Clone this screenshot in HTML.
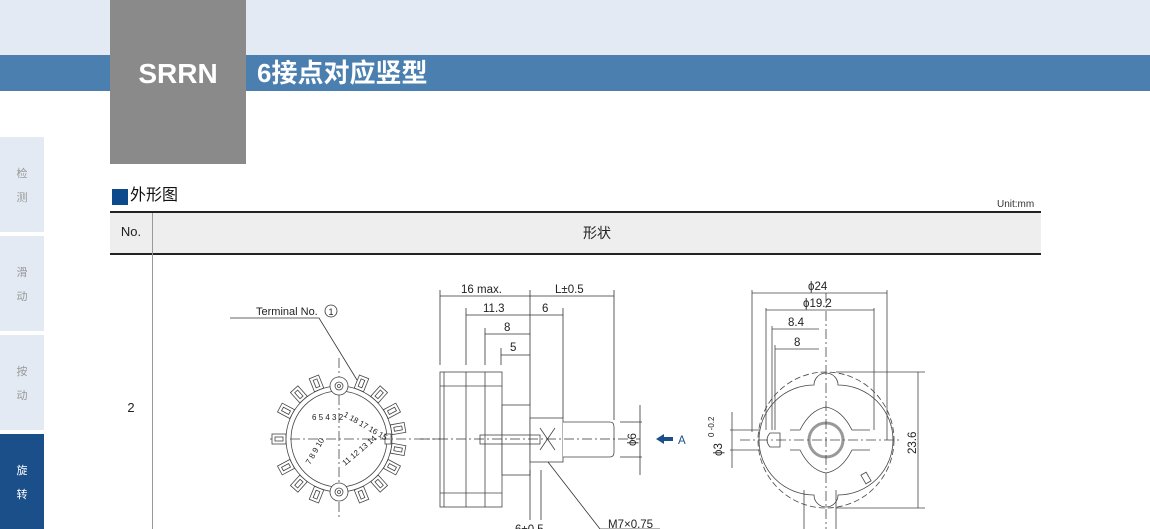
<!DOCTYPE html>
<html><head><meta charset="utf-8"><style>
body{margin:0;width:1150px;height:529px;overflow:hidden;background:#fff;font-family:"Liberation Sans","Noto Sans CJK SC",sans-serif;position:relative}
.a{position:absolute}
</style></head><body>
<div class="a" style="left:0;top:0;width:1150px;height:55px;background:#e3eaf3"></div>
<div class="a" style="left:0;top:55px;width:1150px;height:36px;background:#4a7fb0"></div>
<div class="a" style="left:110px;top:0;width:136px;height:164px;background:#8a8a8a"></div>
<div class="a" style="left:110px;top:58px;width:136px;text-align:center;color:#fff;font-weight:bold;font-size:28px;line-height:32px">SRRN</div>
<div class="a" style="left:257px;top:57px;color:#fff;font-size:26px;line-height:32px;font-weight:bold">6接点对应竖型</div>
<div class="a" style="left:0;top:137px;width:44px;height:95px;background:#e3eaf3;color:#999;font-size:11px;text-align:center"><div style="margin-top:28px">检</div><div style="margin-top:8px">测</div></div>
<div class="a" style="left:0;top:236px;width:44px;height:95px;background:#e3eaf3;color:#999;font-size:11px;text-align:center"><div style="margin-top:28px">滑</div><div style="margin-top:8px">动</div></div>
<div class="a" style="left:0;top:335px;width:44px;height:95px;background:#e3eaf3;color:#999;font-size:11px;text-align:center"><div style="margin-top:28px">按</div><div style="margin-top:8px">动</div></div>
<div class="a" style="left:0;top:434px;width:44px;height:95px;background:#1a4f8a;color:#fff;font-size:11px;text-align:center"><div style="margin-top:28px">旋</div><div style="margin-top:8px">转</div></div>
<div class="a" style="left:112px;top:189px;width:16px;height:16px;background:#0d4a8c"></div>
<div class="a" style="left:130px;top:186px;font-size:16px;line-height:20px;color:#111">外形图</div>
<div class="a" style="left:997px;top:199px;font-size:10px;color:#333">Unit:mm</div>
<div class="a" style="left:110px;top:211px;width:931px;height:2px;background:#222"></div>
<div class="a" style="left:110px;top:213px;width:931px;height:40px;background:#eee"></div>
<div class="a" style="left:110px;top:253px;width:931px;height:2px;background:#222"></div>
<div class="a" style="left:152px;top:213px;width:1px;height:316px;background:#999"></div>
<div class="a" style="left:110px;top:224px;width:42px;text-align:center;font-size:13px;color:#222">No.</div>
<div class="a" style="left:153px;top:223px;width:888px;text-align:center;font-size:14px;color:#222">形状</div>
<div class="a" style="left:110px;top:400px;width:42px;text-align:center;font-size:13px;color:#222">2</div>
<svg class="a" style="left:0;top:0" width="1150" height="529" viewBox="0 0 1150 529" font-family="Liberation Sans, sans-serif" font-size="10" fill="none" stroke="#333" stroke-width="0.8">
<defs><g id="t" stroke="#444" stroke-width="0.8"><rect x="334" y="372" width="10" height="14" fill="#fff"/><rect x="337" y="375" width="4" height="8" fill="none"/></g></defs>
<g stroke="#444">
<line x1="270" y1="439" x2="440" y2="439" stroke-dasharray="10,3,2,3"/>
<line x1="339" y1="358" x2="339" y2="520" stroke-dasharray="10,3,2,3"/>
<use href="#t" transform="rotate(22 339 439)"/><use href="#t" transform="rotate(42 339 439)"/><use href="#t" transform="rotate(62 339 439)"/>
<use href="#t" transform="rotate(118 339 439)"/><use href="#t" transform="rotate(138 339 439)"/><use href="#t" transform="rotate(158 339 439)"/>
<use href="#t" transform="rotate(202 339 439)"/><use href="#t" transform="rotate(222 339 439)"/><use href="#t" transform="rotate(242 339 439)"/>
<use href="#t" transform="rotate(270 339 439)"/><use href="#t" transform="rotate(298 339 439)"/><use href="#t" transform="rotate(318 339 439)"/><use href="#t" transform="rotate(338 339 439)"/>
<use href="#t" transform="rotate(80 339 439)"/><use href="#t" transform="rotate(100 339 439)"/>
<circle cx="339" cy="439" r="53" fill="#fff"/>
<circle cx="339" cy="439" r="48"/>
<circle cx="339" cy="386" r="9" fill="#fff"/><circle cx="339" cy="386" r="4"/><circle cx="339" cy="386" r="1.5"/>
<circle cx="339" cy="492" r="9" fill="#fff"/><circle cx="339" cy="492" r="4"/><circle cx="339" cy="492" r="1.5"/>
<rect x="385" y="434" width="6" height="10" fill="#fff"/>
<line x1="290" y1="439" x2="390" y2="439" stroke-dasharray="10,3,2,3"/>
<line x1="339" y1="395" x2="339" y2="483" stroke-dasharray="10,3,2,3"/>
</g>
<g fill="#222" stroke="none" font-size="8">
<text x="312" y="420">6 5 4 3 2</text><text x="343" y="416" transform="rotate(30 343 416)">1 18 17 16 15</text>
<text x="310" y="465" transform="rotate(-60 310 465)">7 8 9 10</text><text x="345" y="466" transform="rotate(-40 345 466)">11 12 13 14</text>
</g>
<polyline points="230,318 319,318 357,380" stroke="#333"/>
<text x="256" y="315" fill="#222" stroke="none" font-size="11">Terminal No.</text>
<circle cx="331" cy="311" r="6"/><text x="328.5" y="315" fill="#222" stroke="none" font-size="9">1</text>
<g stroke="#444" fill="#fff">
<rect x="440" y="372" width="62" height="135"/>
<line x1="444" y1="372" x2="444" y2="507"/><line x1="440" y1="386" x2="502" y2="386"/><line x1="440" y1="493" x2="502" y2="493"/>
<rect x="502" y="405" width="28" height="70"/>
<rect x="530" y="418" width="33" height="44"/>
<path d="M563 422 H610 Q614 422 614 427 V452 Q614 457 610 457 H563"/>
<path d="M540 428 L555 450 M555 428 L540 450" fill="none"/>
<line x1="466" y1="372" x2="466" y2="507"/><line x1="485" y1="372" x2="485" y2="507"/>
<rect x="480" y="435" width="60" height="9" fill="none"/>
</g>
<line x1="420" y1="439" x2="640" y2="439" stroke-dasharray="10,3,2,3"/>
<g stroke="#333">
<line x1="440" y1="290" x2="440" y2="365"/><line x1="530" y1="290" x2="530" y2="405"/><line x1="614" y1="290" x2="614" y2="420"/>
<line x1="466" y1="308" x2="466" y2="365"/><line x1="563" y1="308" x2="563" y2="418"/>
<line x1="485" y1="328" x2="485" y2="365"/><line x1="501" y1="348" x2="501" y2="365"/>
<line x1="440" y1="296" x2="614" y2="296"/><line x1="466" y1="315" x2="563" y2="315"/>
<line x1="485" y1="334" x2="530" y2="334"/><line x1="501" y1="355" x2="530" y2="355"/>
<line x1="620" y1="422" x2="642" y2="422"/><line x1="620" y1="457" x2="642" y2="457"/><line x1="640" y1="405" x2="640" y2="475"/>
<line x1="530" y1="470" x2="530" y2="520"/><line x1="541" y1="470" x2="541" y2="520"/>
<polyline points="548,462 600,529 660,529"/>
</g>
<g fill="#222" stroke="none" font-size="11.5">
<text x="461" y="293">16 max.</text><text x="555" y="293">L±0.5</text>
<text x="483" y="312">11.3</text><text x="542" y="312">6</text>
<text x="504" y="331">8</text><text x="510" y="351">5</text>
<text x="636" y="446" transform="rotate(-90 636 446)">ϕ6</text>
<text x="678" y="444" fill="#1a4f8a">A</text>
<text x="608" y="528">M7×0.75</text><text x="515" y="533">6±0.5</text>
</g>
<path d="M656 439 L664 434 V437 H673 V441 H664 V444 Z" fill="#1a4f8a" stroke="none"/>
<g stroke="#444">
<circle cx="826" cy="440" r="68" stroke-dasharray="6,3"/>
<path d="M814 385 A12 12 0 0 1 838 385 A53 53 0 1 1 838 495 A12 12 0 0 1 814 495 A53 53 0 1 1 814 385Z" fill="#fff"/>
<path d="M790 430 L800 430 Q810 410 826 407 Q842 410 852 430 L870 430" />
<path d="M790 450 L800 450 Q810 470 826 473 Q842 470 852 450 L870 450"/>
<circle cx="826" cy="440" r="17" stroke="#999" stroke-width="3"/>
<path d="M780 433 H770 Q764 440 770 447 H780 Z" fill="#fff"/>
<rect x="863" y="473" width="6" height="10" transform="rotate(-30 866 478)"/>
<line x1="740" y1="440" x2="900" y2="440" stroke-dasharray="10,3,2,3"/>
<line x1="826" y1="293" x2="826" y2="529" stroke-dasharray="10,3,2,3"/>
<line x1="752" y1="290" x2="752" y2="432"/><line x1="887" y1="290" x2="887" y2="440"/>
<line x1="766" y1="308" x2="766" y2="430"/><line x1="874" y1="308" x2="874" y2="430"/>
<line x1="772" y1="326" x2="772" y2="430"/><line x1="775" y1="345" x2="775" y2="430"/>
<line x1="752" y1="293" x2="887" y2="293"/><line x1="766" y1="310" x2="874" y2="310"/>
<line x1="772" y1="329" x2="819" y2="329"/><line x1="775" y1="349" x2="819" y2="349"/>
<line x1="836" y1="372" x2="925" y2="372"/><line x1="836" y1="508" x2="925" y2="508"/><line x1="918" y1="372" x2="918" y2="508"/>
<line x1="730" y1="430" x2="760" y2="430"/><line x1="730" y1="450" x2="760" y2="450"/><line x1="732" y1="412" x2="732" y2="468"/>
<line x1="804" y1="490" x2="804" y2="529"/><line x1="836" y1="490" x2="836" y2="529"/>
</g>
<g fill="#222" stroke="none" font-size="11.5">
<text x="808" y="290">ϕ24</text><text x="803" y="307">ϕ19.2</text>
<text x="788" y="326">8.4</text><text x="794" y="346">8</text>
<text x="916" y="454" transform="rotate(-90 916 454)">23.6</text>
<text x="722" y="456" transform="rotate(-90 722 456)">ϕ3</text>
<text x="714" y="437" transform="rotate(-90 714 437)" font-size="8">0 -0.2</text>
</g>
</svg>
</body></html>
